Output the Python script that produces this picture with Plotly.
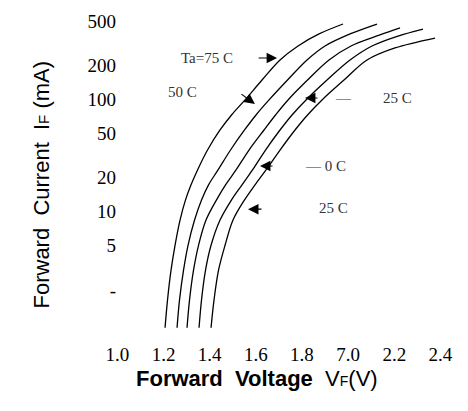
import numpy as np
import plotly.graph_objects as go

# Forward voltage (V) vs forward current (mA) at five ambient temperatures
temps = ["Ta=75 C", "50 C", "25 C", "0 C", "-25 C"]
if_low = [0.92, 1.63, 3.0, 5.0, 8.4, 12.7, 17.3, 23.5, 35.4, 53.4, 72.7, 99, 149, 225]

vf_75 = [1.2063, 1.2171, 1.2323, 1.2496, 1.2713, 1.2951, 1.3190, 1.3472, 1.3905, 1.4447,
         1.4945, 1.5531, 1.6267, 1.7048, 1.7828, 1.8738, 1.9778]
if_75 = if_low + [300, 384, 471]

vf_50 = [1.2583, 1.2691, 1.2865, 1.3060, 1.3342, 1.3645, 1.3948, 1.4360, 1.4902, 1.5509,
         1.6007, 1.6571, 1.7373, 1.8218, 1.8998, 2.0082, 2.1252]
if_50 = if_low + [300, 384, 471]

vf_25 = [1.3016, 1.3125, 1.3298, 1.3515, 1.3840, 1.4295, 1.4685, 1.5140, 1.5704, 1.6354,
         1.6852, 1.7394, 1.8240, 1.9172, 2.0125, 2.1382, 2.2249]
if_25 = if_low + [300, 376, 434]

vf_0 = [1.3537, 1.3645, 1.3818, 1.4057, 1.4447, 1.4945, 1.5400, 1.5856, 1.6419, 1.7048,
        1.7568, 1.8175, 1.9085, 2.0082, 2.1035, 2.2162, 2.3246]
if_0 = if_low + [300, 368, 425]

vf_m25 = [1.4057, 1.4187, 1.4382, 1.4664, 1.5010, 1.5509, 1.5964, 1.6441, 1.7048, 1.7698,
          1.8240, 1.8868, 1.9822, 2.0819, 2.2032, 2.3766]
if_m25 = if_low + [288, 353]

x_tick_vals = [1.0, 1.2, 1.4, 1.6, 1.8, 2.0, 2.2, 2.4]
x_tick_text = ["1.0", "1.2", "1.4", "1.6", "1.8", "7.0", "2.2", "2.4"]
y_tick_vals = [500, 200, 100, 50, 20, 10, 5, 2]
y_tick_text = ["500", "200", "100", "50", "20", "10", "5", "-"]

SERIF = "Liberation Serif, Times New Roman, serif"
NARROW = "Liberation Sans Narrow, Arial Narrow, Liberation Sans, sans-serif"

fig = go.Figure()
for name, vx, iy in zip(temps,
                        [vf_75, vf_50, vf_25, vf_0, vf_m25],
                        [if_75, if_50, if_25, if_0, if_m25]):
    fig.add_trace(go.Scatter(x=vx, y=iy, mode="lines", name=name,
                             line=dict(color="black", width=1.3, shape="spline", smoothing=1.0),
                             showlegend=False, hoverinfo="skip"))

# Arrow heads pointing at the curves: (tip V, tip mA, tail dx, tail dy)
arrows = [(1.692, 234, -20, 0), (1.596, 91, -15, -11), (1.813, 103, 14, 0),
          (1.618, 25.5, 14, 0), (1.566, 10.5, 15, 0)]
for xv, yv, dx, dy in arrows:
    fig.add_annotation(x=xv, y=np.log10(yv), ax=dx, ay=dy, text="", showarrow=True,
                       arrowhead=2, arrowsize=1.9, arrowwidth=1.1, arrowcolor="black")

# Temperature labels
labels = [("Ta=75 C", 1.388, 234), ("50 C", 1.284, 116.6), ("—", 1.978, 103),
          ("25 C", 2.212, 103), ("— 0 C", 1.900, 25.5), ("25 C", 1.935, 10.8)]
for txt, xv, yv in labels:
    fig.add_annotation(x=xv, y=np.log10(yv), text=txt, showarrow=False,
                       font=dict(family=SERIF, size=15, color="#333"))

# Axis titles
fig.add_annotation(xref="paper", yref="paper", x=(257 - 105) / 361, y=(335 - 393) / 330,
                   text='<b>Forward  Voltage</b>  V<span style="font-size:14px">F</span>(V)',
                   showarrow=False, font=dict(family=NARROW, size=22, color="black"))
fig.add_annotation(xref="paper", yref="paper", x=(26 - 105) / 361, y=(335 - 185) / 330,
                   text='Forward  Current  I<span style="font-size:15px">F</span> (mA)',
                   textangle=-90, showarrow=False,
                   font=dict(family=NARROW, size=22, color="black"))

fig.update_layout(
    width=468, height=411,
    margin=dict(l=105, r=2, t=5, b=76),
    paper_bgcolor="white", plot_bgcolor="white",
    font=dict(family=SERIF, color="black"),
    xaxis=dict(range=[0.946, 2.511], tickvals=x_tick_vals, ticktext=x_tick_text,
               showgrid=False, zeroline=False, showline=False, ticks="",
               tickfont=dict(family=SERIF, size=19, color="black"),
               ticklabelstandoff=6),
    yaxis=dict(type="log", range=[-0.1013, 2.8426], tickvals=y_tick_vals, ticktext=y_tick_text,
               showgrid=False, zeroline=False, showline=False, ticks="",
               tickfont=dict(family=SERIF, size=19, color="black"),
               ticklabelstandoff=-12),
)

fig.write_html("out.html")
